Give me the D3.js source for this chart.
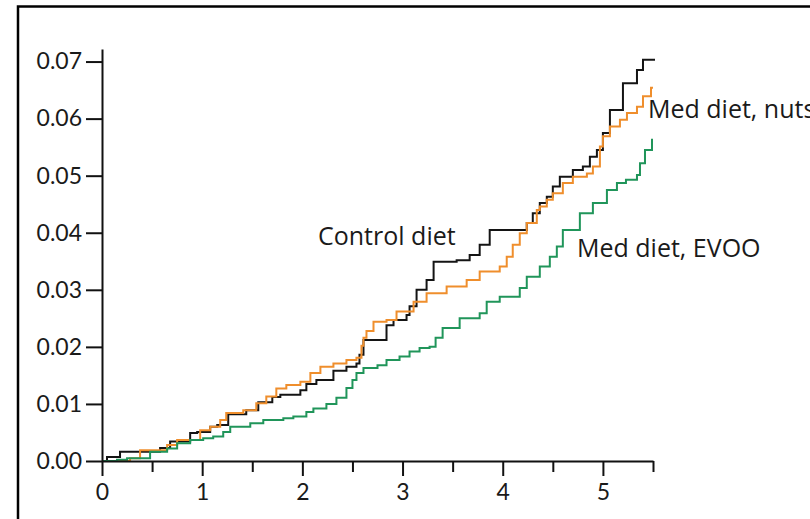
<!DOCTYPE html>
<html>
<head>
<meta charset="utf-8">
<script src="https://cdn.jsdelivr.net/npm/d3@7"></script>
<style>
  html, body { margin: 0; padding: 0; background: #fff; }
  #container { width: 810px; height: 519px; overflow: hidden; }
  text { fill: #1a1a1a; }
</style>
</head>
<body>
<div id="container"></div>
<script>
const width = 810;
const height = 519;

// years of follow-up, cumulative incidence (step after)
const controlSteps = [
  [0, 0], [0.05, 0.0007], [0.18, 0.0016], [0.58, 0.0023], [0.68, 0.0034], [0.88, 0.0049],
  [0.95, 0.0051], [1.08, 0.0060], [1.15, 0.0063], [1.26, 0.0082], [1.44, 0.0089],
  [1.56, 0.0103], [1.70, 0.0112], [1.78, 0.0116], [1.98, 0.0124], [2.04, 0.0135],
  [2.14, 0.0142], [2.31, 0.0158], [2.44, 0.0165], [2.54, 0.0171], [2.57, 0.0186],
  [2.61, 0.0212], [2.84, 0.0238], [2.91, 0.0247], [3.04, 0.0256], [3.07, 0.0271],
  [3.14, 0.0300], [3.24, 0.0317], [3.31, 0.0349], [3.54, 0.0352], [3.67, 0.0361],
  [3.77, 0.0379], [3.87, 0.0405], [4.24, 0.0417], [4.30, 0.0434], [4.37, 0.0452],
  [4.44, 0.0463], [4.50, 0.0481], [4.57, 0.0498], [4.70, 0.0510], [4.80, 0.0516],
  [4.87, 0.0533], [4.94, 0.0545], [5.00, 0.0575], [5.07, 0.0615], [5.20, 0.0662],
  [5.34, 0.0685], [5.40, 0.0703], [5.52, 0.0703]
];

const nutsSteps = [
  [0, 0], [0.28, 0.0005], [0.38, 0.0019], [0.65, 0.0028], [0.75, 0.0037], [0.98, 0.0054],
  [1.08, 0.0060], [1.18, 0.0072], [1.24, 0.0084], [1.41, 0.0089], [1.54, 0.0101],
  [1.64, 0.0113], [1.74, 0.0127], [1.84, 0.0133], [1.98, 0.0139], [2.08, 0.0154],
  [2.18, 0.0165], [2.31, 0.0171], [2.44, 0.0177], [2.54, 0.0181], [2.59, 0.0202],
  [2.61, 0.0216], [2.64, 0.0228], [2.71, 0.0244], [2.84, 0.0247], [2.94, 0.0262],
  [3.11, 0.0279], [3.24, 0.0294], [3.44, 0.0306], [3.64, 0.0317], [3.77, 0.0332],
  [3.97, 0.0341], [4.04, 0.0358], [4.10, 0.0379], [4.17, 0.0399], [4.24, 0.0417],
  [4.34, 0.0440], [4.37, 0.0446], [4.44, 0.0458], [4.50, 0.0469], [4.60, 0.0487],
  [4.70, 0.0498], [4.84, 0.0504], [4.90, 0.0516], [4.97, 0.0551], [5.00, 0.0569],
  [5.07, 0.0586], [5.17, 0.0598], [5.24, 0.0610], [5.34, 0.0621], [5.40, 0.0639],
  [5.48, 0.0654], [5.50, 0.0654]
];

const evooSteps = [
  [0, 0], [0.15, 0.0002], [0.25, 0.0005], [0.48, 0.0016], [0.65, 0.0022], [0.75, 0.0031],
  [0.88, 0.0037], [1.01, 0.0040], [1.11, 0.0043], [1.21, 0.0051], [1.28, 0.0060],
  [1.48, 0.0066], [1.61, 0.0072], [1.81, 0.0075], [1.91, 0.0078], [2.04, 0.0086],
  [2.11, 0.0092], [2.24, 0.0100], [2.34, 0.0111], [2.44, 0.0128], [2.50, 0.0142],
  [2.54, 0.0154], [2.61, 0.0163], [2.75, 0.0168], [2.84, 0.0177], [2.97, 0.0183],
  [3.07, 0.0192], [3.17, 0.0198], [3.27, 0.0200], [3.33, 0.0216], [3.40, 0.0233],
  [3.57, 0.0250], [3.77, 0.0259], [3.84, 0.0279], [3.97, 0.0288], [4.17, 0.0303],
  [4.24, 0.0323], [4.37, 0.0341], [4.47, 0.0358], [4.54, 0.0376], [4.60, 0.0405],
  [4.77, 0.0434], [4.90, 0.0452], [5.04, 0.0475], [5.14, 0.0487], [5.23, 0.0493],
  [5.34, 0.0501], [5.37, 0.0522], [5.42, 0.0545], [5.49, 0.0563], [5.50, 0.0563]
];

const xTicks = [0, 1, 2, 3, 4, 5];
const xMinorTicks = [0.5, 1.5, 2.5, 3.5, 4.5, 5.5];
const yTicks = [0, 0.01, 0.02, 0.03, 0.04, 0.05, 0.06, 0.07];
const seriesNames = ["Control diet", "Med diet, nuts", "Med diet, EVOO"];
const seriesColors = ["#141414", "#ef8e2c", "#20955a"];

const svg = d3.create("svg")
    .attr("width", width)
    .attr("height", height)
    .attr("viewBox", `0 0 ${width} ${height}`)
    .attr("xmlns", "http://www.w3.org/2000/svg");

const x = d3.scaleLinear().domain([0, 5.5]).range([102, 653]);
const y = d3.scaleLinear().domain([0, 0.0722]).range([461, 49]);

// frame (runs off the right and bottom edges)
svg.append("rect")
    .attr("x", 18).attr("y", 6.5)
    .attr("width", 820).attr("height", 540)
    .attr("fill", "none").attr("stroke", "#000").attr("stroke-width", 2.5);

const line = d3.line()
    .x(d => x(d[0]))
    .y(d => y(d[1]))
    .curve(d3.curveStepAfter);

[controlSteps, nutsSteps, evooSteps].forEach((s, i) => {
  svg.append("path")
      .datum(s)
      .attr("fill", "none")
      .attr("stroke", seriesColors[i])
      .attr("stroke-width", 2)
      .attr("d", line);
});

// axes
svg.append("g")
    .attr("transform", `translate(0,${y(0)})`)
    .call(d3.axisBottom(x).tickValues(xTicks).tickFormat(d3.format("d"))
        .tickSize(15).tickSizeOuter(0).tickPadding(8));

svg.append("g")
    .attr("transform", `translate(0,${y(0)})`)
    .call(d3.axisBottom(x).tickValues(xMinorTicks).tickFormat("")
        .tickSize(11).tickSizeOuter(0))
    .call(g => g.select(".domain").remove());

svg.append("g")
    .attr("transform", `translate(${x(0)},0)`)
    .call(d3.axisLeft(y).tickValues(yTicks).tickFormat(d3.format(".2f"))
        .tickSize(16).tickSizeOuter(0).tickPadding(4));

svg.selectAll(".domain, .tick line")
    .attr("stroke", "#111")
    .attr("stroke-width", 2);
svg.selectAll(".tick text")
    .style("font-family", "Lato, 'Open Sans', sans-serif")
    .style("font-size", "23px")
    .attr("fill", "#1a1a1a");

// series labels
const labels = [
  {name: seriesNames[0], at: [318, 245]},
  {name: seriesNames[1], at: [648, 118]},
  {name: seriesNames[2], at: [577, 257]}
];
svg.selectAll("text.series")
    .data(labels)
    .join("text")
    .attr("class", "series")
    .attr("x", d => d.at[0])
    .attr("y", d => d.at[1])
    .style("font-family", "'Open Sans', sans-serif")
    .style("font-size", "25px")
    .text(d => d.name);

document.getElementById("container").append(svg.node());
</script>
</body>
</html>
